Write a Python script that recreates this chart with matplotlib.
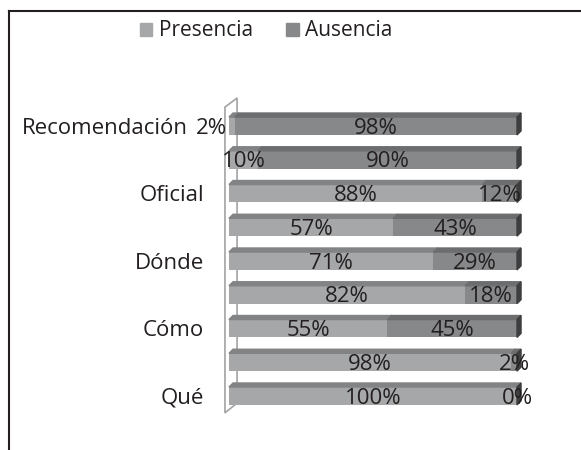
import numpy as np
import matplotlib.pyplot as plt
from matplotlib.patches import Polygon, Patch
from matplotlib.lines import Line2D

# bars from bottom to top; only every other bar carries a category name
categories = ['Qué', '', 'Cómo', '', 'Dónde', '', 'Oficial', '', 'Recomendación']
presencia = [100, 98, 55, 82, 71, 57, 88, 10, 2]
ausencia = [0, 2, 45, 18, 29, 43, 12, 90, 98]
series_names = ['Presencia', 'Ausencia']

plt.rcParams['font.family'] = ['Open Sans', 'DejaVu Sans']

front_cols = ['#a6a7a9', '#87888a']
top_cols = ['#828385', '#6c6d6f']
side_col = '#3e3e3e'
wall_col = '#a3a3a3'
txt_col = '#231f20'
fs = 16

W, H = 581, 450
fig = plt.figure(figsize=(W / 100, H / 100), dpi=100)
ax = fig.add_axes([229 / W, 30.4 / H, 288 / W, 317.2 / H])
ax.set_xlim(0, 100)
ax.set_ylim(-0.7, 8.7)
ax.axis('off')

y = np.arange(len(categories))
h = 0.53    # front face height
dx, dy = 1.4, 0.12   # depth of the fake 3d

# back wall (drawn behind the bars)
n = len(categories)
wall = [(-1.4, n - 1 + 0.56), (2.8, n - 1 + 0.83), (2.8, -0.21), (-1.4, -0.50)]
ax.add_patch(Polygon(wall, closed=True, fill=False, edgecolor=wall_col,
                     lw=1.2, zorder=1, clip_on=False))

for i in range(n):
    lefts = [0, presencia[i]]
    widths = [presencia[i], ausencia[i]]
    top = y[i] + h / 2
    for k in range(2):
        l, w = lefts[k], widths[k]
        if w <= 0:
            continue
        ax.barh(y[i], w, left=l, height=h, color=front_cols[k], zorder=3)
        ax.add_patch(Polygon([(l, top), (l + w, top), (l + w + dx, top + dy), (l + dx, top + dy)],
                             closed=True, color=top_cols[k], zorder=3, clip_on=False))
    end = presencia[i] + ausencia[i]
    ax.add_patch(Polygon([(end, top - h), (end, top), (end + dx, top + dy), (end + dx, top - h + dy)],
                         closed=True, color=side_col, zorder=3, clip_on=False))

    # value labels, centred on each segment
    for k in range(2):
        xc = lefts[k] + widths[k] / 2
        off = -15 if (k == 0 and widths[k] < 5 and ausencia[i] > 50) else 0
        ax.annotate(f'{widths[k]}%', (xc, y[i]), xytext=(off, -1.5), textcoords='offset points',
                    ha='center', va='center', fontsize=fs, color=txt_col, zorder=5,
                    annotation_clip=False)

    if categories[i]:
        pad = -29.5 if len(categories[i]) > 10 else -18
        ax.annotate(categories[i], (0, y[i]), xytext=(pad, -1.5), textcoords='offset points',
                    ha='right', va='center', fontsize=fs, color=txt_col,
                    annotation_clip=False)

# legend
handles = [Patch(color=c) for c in front_cols]
fig.legend(handles, series_names, loc='center', bbox_to_anchor=(266 / W, 1 - 31 / H),
           ncol=2, frameon=False, fontsize=15, handlelength=0.6, handleheight=0.6,
           handletextpad=0.3, columnspacing=1.6, labelcolor=txt_col)

# outer frame: only left and top edges are visible
fig.add_artist(Line2D([9 / W, 9 / W], [0, 1 - 11 / H], color=txt_col, lw=1.5))
fig.add_artist(Line2D([9 / W, 1], [1 - 11 / H, 1 - 11 / H], color=txt_col, lw=1.5))

fig.savefig('out.png', dpi=100)
